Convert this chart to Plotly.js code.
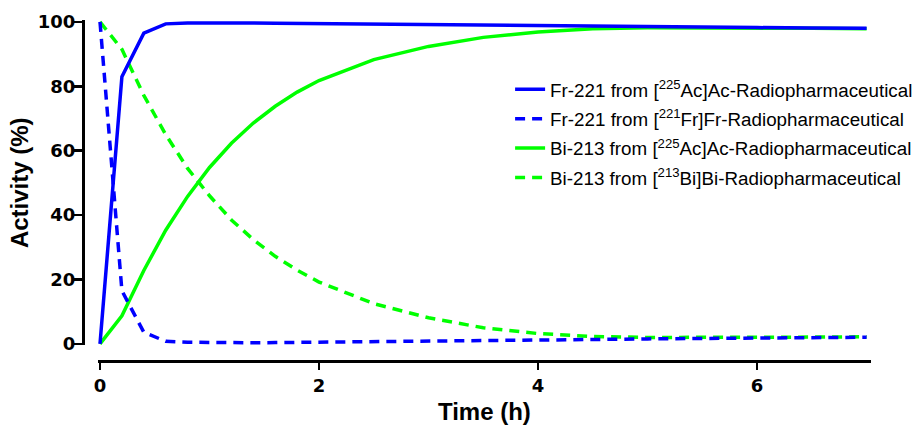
<!DOCTYPE html>
<html>
<head>
<meta charset="utf-8">
<script src="https://cdn.plot.ly/plotly-3.0.1.min.js"></script>
<style>html,body{margin:0;padding:0;background:#fff;}#chart{width:919px;height:427px;}</style>
</head>
<body>
<div id="chart"></div>
<script>
// Time points (h)
var timeH = [0, 0.2, 0.4, 0.6, 0.8, 1.0, 1.2, 1.4, 1.6, 1.8, 2.0, 2.5, 3.0, 3.5, 4.0, 4.5, 5.0, 5.5, 6.0, 6.5, 7.0];

// Activity (%) series
var fr221FromAc = [0, 83.0, 96.5, 99.4, 99.7, 99.75, 99.7, 99.65, 99.6, 99.55, 99.45, 99.3, 99.15, 99.0, 98.8, 98.65, 98.5, 98.4, 98.25, 98.1, 98.0];
var fr221FromFr = [100, 16.5, 3.6, 0.8, 0.5, 0.4, 0.35, 0.35, 0.4, 0.45, 0.5, 0.7, 0.9, 1.05, 1.2, 1.35, 1.55, 1.7, 1.8, 1.95, 2.05];
var bi213FromAc = [0, 8.7, 22.8, 35.3, 45.8, 54.8, 62.3, 68.6, 73.8, 78.2, 81.8, 88.3, 92.4, 95.2, 96.9, 97.9, 98.2, 98.2, 98.1, 98.0, 97.9];
var bi213FromBi = [100, 91.5, 77.2, 65.0, 54.5, 46.0, 38.5, 32.4, 27.2, 22.9, 19.2, 12.5, 8.1, 5.0, 3.2, 2.3, 2.0, 1.95, 2.0, 2.1, 2.2];

var seriesNames = [
  'Fr-221 from [<sup>225</sup>Ac]Ac-Radiopharmaceutical',
  'Fr-221 from [<sup>221</sup>Fr]Fr-Radiopharmaceutical',
  'Bi-213 from [<sup>225</sup>Ac]Ac-Radiopharmaceutical',
  'Bi-213 from [<sup>213</sup>Bi]Bi-Radiopharmaceutical'
];
var xTicks = [0, 2, 4, 6];
var yTicks = [0, 20, 40, 60, 80, 100];

var BLUE = '#0000ff', GREEN = '#00ff00';
var DASH = '10px,7px';
var LW = 3.5;

function tr(y, name, color, dash, rank) {
  return {
    x: timeH, y: y, name: name, type: 'scatter', mode: 'lines',
    line: {color: color, width: LW, dash: dash},
    legendgroup: 'g' + rank, legendrank: rank, hoverinfo: 'x+y'
  };
}

// drawn order: green first so blue sits on top; legendrank keeps reference legend order
var data = [
  tr(bi213FromBi, seriesNames[3], GREEN, DASH, 4),
  tr(bi213FromAc, seriesNames[2], GREEN, 'solid', 3),
  tr(fr221FromFr, seriesNames[1], BLUE, DASH, 2),
  tr(fr221FromAc, seriesNames[0], BLUE, 'solid', 1)
];

var tickFont = {family: 'DejaVu Sans, sans-serif', size: 18, color: '#000', weight: 'bold'};
var titleFont = {family: 'Liberation Sans, Arial, sans-serif', size: 24, color: '#000', weight: 'bold'};
var yDomain = [0.0455, 1], yRange = [-0.5, 100.6];

var layout = {
  width: 919, height: 427,
  margin: {l: 83, r: 48, t: 20, b: 66, autoexpand: false},
  paper_bgcolor: '#fff', plot_bgcolor: '#fff',
  showlegend: true,
  xaxis: {
    domain: [0.0188, 1], range: [-0.02, 7.04],
    anchor: 'free', position: 0,
    showline: true, linecolor: '#000', linewidth: 3,
    ticks: 'outside', ticklen: 7, tickwidth: 2.5, tickcolor: '#000',
    tickvals: xTicks, ticktext: xTicks.map(String),
    showgrid: false, zeroline: false,
    tickfont: tickFont,
    title: {text: 'Time (h)', font: titleFont, standoff: 8}
  },
  // labelled y axis (short ticks so labels sit close to the axis)
  yaxis: {
    domain: yDomain, range: yRange,
    anchor: 'free', position: 0,
    showline: true, linecolor: '#000', linewidth: 3,
    ticks: 'outside', ticklen: 3, tickwidth: 2.5, tickcolor: '#000',
    tickvals: yTicks, ticktext: yTicks.map(String),
    showgrid: false, zeroline: false,
    tickfont: tickFont,
    title: {text: 'Activity (%)', font: titleFont, standoff: 1}
  },
  // overlay axis carrying the full-length tick marks
  yaxis2: {
    domain: yDomain, range: yRange, overlaying: 'y',
    anchor: 'free', position: 0, side: 'left',
    showline: true, linecolor: '#000', linewidth: 3,
    ticks: 'outside', ticklen: 8, tickwidth: 2.5, tickcolor: '#000',
    tickvals: yTicks, showticklabels: false,
    showgrid: false, zeroline: false
  },
  legend: {
    x: 0.542, y: 0.852, xanchor: 'left', yanchor: 'top',
    bgcolor: 'rgba(0,0,0,0)', borderwidth: 0,
    font: {family: 'Liberation Sans, Arial, sans-serif', size: 18.8, color: '#000'},
    traceorder: 'grouped', tracegroupgap: 2
  }
};

// invisible helper trace so the overlay axis is drawn
data.unshift({x: [timeH[0]], y: [yTicks[0]], yaxis: 'y2', type: 'scatter', mode: 'lines',
  showlegend: false, hoverinfo: 'skip', line: {width: 0}});

Plotly.newPlot('chart', data, layout, {displayModeBar: false, staticPlot: true});
</script>
</body>
</html>
